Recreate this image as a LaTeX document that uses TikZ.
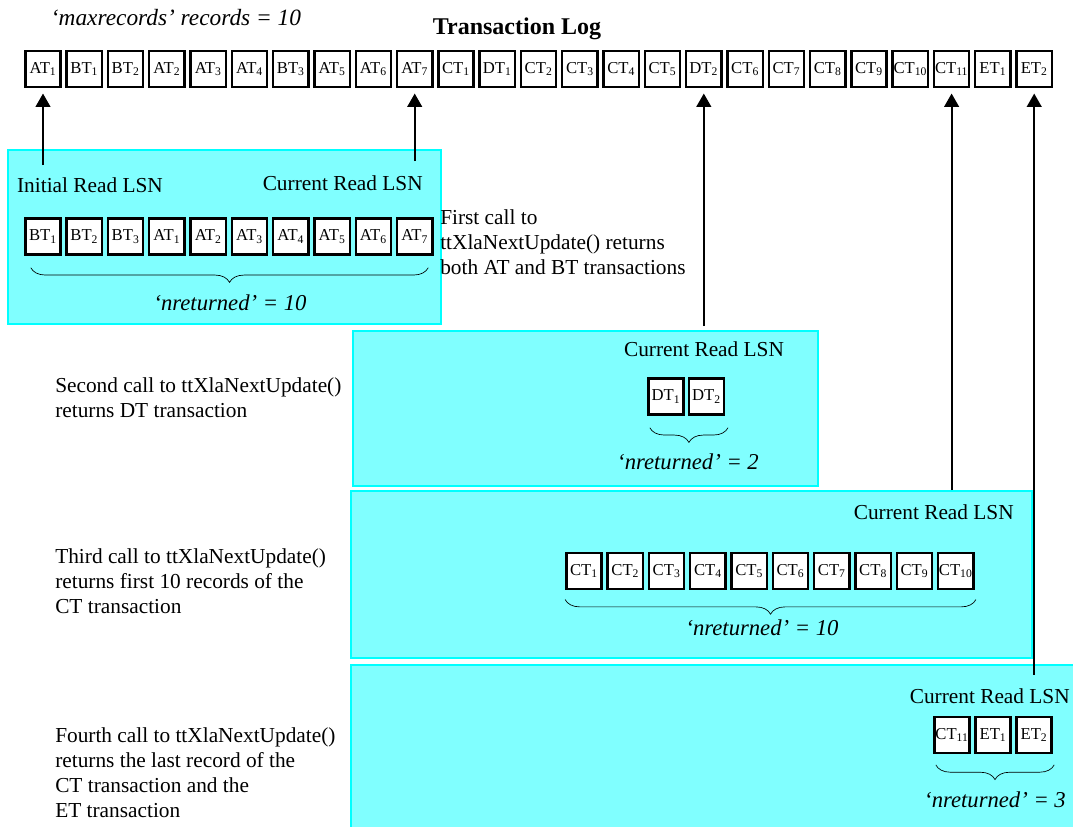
\documentclass[tikz,border=0pt]{standalone}
\usepackage{fontspec}
\setmainfont{Liberation Serif}
\usetikzlibrary{arrows.meta,decorations.pathreplacing}
\definecolor{cyanclair}{RGB}{128,255,255}
\definecolor{cyanvif}{RGB}{0,255,255}

\begin{document}
\begin{tikzpicture}[x=0.75pt, y=-0.75pt,
    enreg/.style={draw, fill=white, line width=1.8pt, inner sep=0pt, minimum width=26.5pt, minimum height=27pt, font=\fontsize{12.5}{14}\selectfont},
    cadre/.style={draw=cyanvif, fill=cyanclair, line width=1.8pt, inner sep=0pt, anchor=north west},
    fleche/.style={line width=1.5pt, -{Triangle[width=11pt,length=10pt]}, shorten >=4pt},
    accolade/.style={decorate, decoration={brace, mirror, amplitude=11pt}, line width=0.5pt},
    texte/.style={font=\fontsize{16}{18.75}\selectfont, inner sep=0pt},
    note/.style={texte, align=left, anchor=north west},
    compte/.style={font=\fontsize{17}{20}\selectfont\itshape, inner sep=0pt}]
    \useasboundingbox (0,0) rectangle (1073,826);
    \clip (0,0) rectangle (1073,826);
    % Cadres des appels
    \node[cadre, minimum width=324.75pt, minimum height=130.5pt] (c1) at (7,149) {};
    \node[cadre, minimum width=348.75pt, minimum height=116.25pt] (c2) at (352,330) {};
    \node[cadre, minimum width=510.75pt, minimum height=125.25pt] (c3) at (350,490) {};
    \node[cadre, minimum width=555pt, minimum height=135pt] (c4) at (350,664) {};
    % Journal
    \node[font=\fontsize{17.5}{20}\selectfont\itshape] (max) at (176,18) {‘maxrecords’ records = 10};
    \node[font=\fontsize{18}{20}\selectfont\bfseries] (titre) at (517,29) {Transaction Log};
    \foreach \n/\s [count=\i] in {AT/1,BT/1,BT/2,AT/2,AT/3,AT/4,BT/3,AT/5,AT/6,AT/7,CT/1,DT/1,CT/2,CT/3,CT/4,CT/5,DT/2,CT/6,CT/7,CT/8,CT/9,CT/10,CT/11,ET/1,ET/2}
      \node[enreg] (j\i) at ({43+(\i-1)*41.3},69) {\n\textsubscript{\s}};
    % Premier appel
    \node[texte] (ini) at (90,185) {Initial Read LSN};
    \node[texte, anchor=east] (lsn1) at (423,183) {Current Read LSN};
    \foreach \n/\s [count=\i] in {BT/1,BT/2,BT/3,AT/1,AT/2,AT/3,AT/4,AT/5,AT/6,AT/7}
      \node[enreg] (a\i) at ({43+(\i-1)*41.3},236.5) {\n\textsubscript{\s}};
    \draw[accolade] ([xshift=5pt,yshift=-9pt]a1.south west) -- ([xshift=-4pt,yshift=-9pt]a10.south east);
    \node[compte] (n1) at (230,303) {‘nreturned’ = 10};
    \node[note] (d1) at (440,209) {First call to\\ttXlaNextUpdate() returns\\both AT and BT transactions};
    % Deuxieme appel
    \node[texte] (lsn2) at (704,349) {Current Read LSN};
    \foreach \n/\s [count=\i] in {DT/1,DT/2}
      \node[enreg] (b\i) at ({666+(\i-1)*40.5},396.5) {\n\textsubscript{\s}};
    \draw[accolade] ([xshift=2pt,yshift=-9pt]b1.south west) -- ([xshift=2pt,yshift=-9pt]b2.south east);
    \node[compte] (n2) at (688,462) {‘nreturned’ = 2};
    \node[note] (d2) at (55,377) {Second call to ttXlaNextUpdate()\\returns DT transaction};
    % Troisieme appel
    \node[texte, anchor=east] (lsn3) at (1014,512) {Current Read LSN};
    \foreach \n/\s [count=\i] in {CT/1,CT/2,CT/3,CT/4,CT/5,CT/6,CT/7,CT/8,CT/9,CT/10}
      \node[enreg] (e\i) at ({584+(\i-1)*41.3},571) {\n\textsubscript{\s}};
    \draw[accolade] ([xshift=0pt,yshift=-7pt]e1.south west) -- ([xshift=1pt,yshift=-7pt]e10.south east);
    \node[compte] (n3) at (762,628) {‘nreturned’ = 10};
    \node[note] (d3) at (55,548) {Third call to ttXlaNextUpdate()\\returns first 10 records of the\\CT transaction};
    % Quatrieme appel
    \node[texte, anchor=east] (lsn4) at (1070,696) {Current Read LSN};
    \foreach \n/\s [count=\i] in {CT/11,ET/1,ET/2}
      \node[enreg] (f\i) at ({952+(\i-1)*41},735) {\n\textsubscript{\s}};
    \draw[accolade] ([xshift=2pt,yshift=-8pt]f1.south west) -- ([xshift=1pt,yshift=-8pt]f3.south east);
    \node[compte] (n4) at (995,800) {‘nreturned’ = 3};
    \node[note] (d4) at (55,727) {Fourth call to ttXlaNextUpdate()\\returns the last record of the\\CT transaction and the\\ET transaction};
    % Fleches vers le journal
    \draw[fleche, shorten <=-12pt] (c1.north -| j1) -- (j1);
    \draw[fleche, shorten <=-9pt] (c1.north -| j10) -- (j10);
    \draw[fleche, shorten <=3pt] (c2.north -| j17) -- (j17);
    \draw[fleche] (c3.north -| j23) -- (j23);
    \draw[fleche, shorten <=-8pt] (c4.north -| j25) -- (j25);
  \end{tikzpicture}
\end{document}
